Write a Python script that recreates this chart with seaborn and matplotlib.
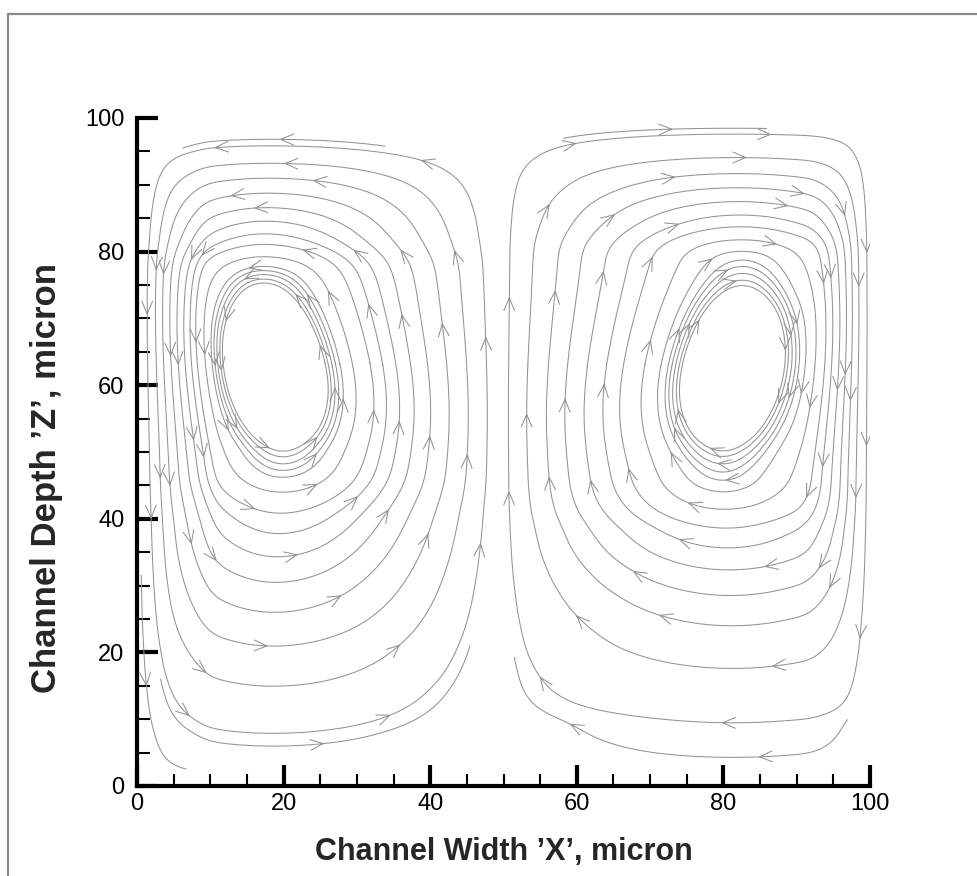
import numpy as np
import matplotlib
matplotlib.use("Agg")
import matplotlib.pyplot as plt
from matplotlib.ticker import MultipleLocator
from matplotlib.lines import Line2D
from matplotlib.patches import FancyArrowPatch
import seaborn as sns

# ---- channel cross-section (micron) ----
CHANNEL_W = 100.0
CHANNEL_D = 100.0
MID_X = 50.0

# Secondary-flow cells. Each loop k crosses the horizontal line through the
# core at *_WEST[k] / *_EAST[k] and the vertical line through the core at
# *_SOUTH[k] / *_NORTH[k] (innermost loop first).
LEFT_CORE = (18.5, 62.5)
LEFT_WEST = [11.8, 11.4, 11.0, 10.5, 10.0, 9.3, 8.4, 7.5, 6.6, 5.6, 4.6, 3.6, 2.7, 1.8]
LEFT_EAST = [25.8, 26.2, 26.7, 27.2, 27.8, 29.5, 31.9, 33.6, 35.4, 37.4, 39.7, 42.3, 45.0, 47.7]
LEFT_SOUTH = [50.3, 49.2, 48.2, 47.2, 46.0, 44.0, 41.0, 37.8, 34.3, 30.5, 26.0, 21.0, 15.0, 8.0]
LEFT_NORTH = [75.4, 76.0, 76.6, 77.3, 78.0, 79.3, 80.9, 82.6, 84.6, 86.6, 88.8, 91.0, 93.2, 95.5]

RIGHT_CORE = (81.3, 62.5)
RIGHT_WEST = [74.3, 73.9, 73.4, 72.9, 72.4, 71.4, 69.2, 66.3, 64.0, 61.4, 58.7, 56.1, 53.3, 50.7]
RIGHT_EAST = [88.3, 88.7, 89.2, 89.8, 90.4, 91.4, 92.6, 93.8, 94.8, 95.8, 96.7, 97.5, 98.3, 99.0]
RIGHT_SOUTH = [50.3, 49.3, 48.3, 47.1, 45.5, 43.9, 41.3, 38.8, 35.6, 32.4, 28.6, 24.1, 17.7, 10.1]
RIGHT_NORTH = [74.8, 75.8, 76.7, 77.7, 79.0, 80.4, 81.8, 83.6, 85.5, 87.5, 89.5, 91.7, 93.9, 97.1]

# short open traces close to the walls: seed x, seed z, trace length (axes units)
OPEN_X = [25.0, 1.2, 20.0, 72.0, 72.0]
OPEN_Z = [6.3, 16.0, 96.8, 98.3, 4.8]
OPEN_LEN = [0.55, 0.32, 0.28, 0.28, 0.55]

CORE_TILT = 0.17       # upper part of each core leans towards its side wall

X_TICKS = [0, 20, 40, 60, 80, 100]
Z_TICKS = [0, 20, 40, 60, 80, 100]
X_LABEL = "Channel Width \u2019X\u2019, micron"
Z_LABEL = "Channel Depth \u2019Z\u2019, micron"

LINE_COLOR = "#939393"
LINE_W = 0.75
ARROW_STYLE = "->,head_length=0.7,head_width=0.3"

sns.set_theme(style="white")
plt.rcParams["font.family"] = ["Liberation Sans", "DejaVu Sans"]


# ---- stream function built from the loop crossings ----
def level_coord(lo, lo_knots, center, hi_knots, hi, levels, wall, n=801, sigma=1.0):
    """Signed loop-level coordinate along one line through a core."""
    lo_knots = np.asarray(lo_knots)
    hi_knots = np.asarray(hi_knots)
    pos = np.concatenate([[lo], lo_knots[::-1], [center], hi_knots, [hi]])
    val = np.concatenate([[-wall], -levels[::-1], [0.0], levels, [wall]])
    grid = np.linspace(lo, hi, n)
    u = np.interp(grid, pos, val)
    step = grid[1] - grid[0]
    half_w = int(4 * sigma / step)
    ker = np.exp(-0.5 * (np.arange(-half_w, half_w + 1) * step / sigma) ** 2)
    ker /= ker.sum()
    up = np.pad(u, half_w, mode="reflect", reflect_type="odd")
    return grid, np.convolve(up, ker, mode="valid")


def profile(grid, u, wall, values):
    return np.cos(0.5 * np.pi * np.interp(values, grid, u) / wall)


x = np.linspace(0.0, CHANNEL_W, 401)
z = np.linspace(0.0, CHANNEL_D, 401)
X, Z = np.meshgrid(x, z)

# lean of the cores, confined to the core depth band
dz = Z - LEFT_CORE[1]
X_eff = X + CORE_TILT * dz * np.exp(-(dz / 20.0) ** 2) * np.sin(np.pi * X / MID_X)

# loop levels: distance of each loop from its core towards the mid-plane
lev_L = np.array(LEFT_EAST) - LEFT_CORE[0]
wall_L = MID_X - LEFT_CORE[0]
lev_R = RIGHT_CORE[0] - np.array(RIGHT_WEST)
wall_R = RIGHT_CORE[0] - MID_X

gxL, uxL = level_coord(0.0, LEFT_WEST, LEFT_CORE[0], LEFT_EAST, MID_X, lev_L, wall_L)
gzL, uzL = level_coord(0.0, LEFT_SOUTH, LEFT_CORE[1], LEFT_NORTH, CHANNEL_D, lev_L, wall_L)
gxR, uxR = level_coord(MID_X, RIGHT_WEST, RIGHT_CORE[0], RIGHT_EAST, CHANNEL_W, lev_R, wall_R)
gzR, uzR = level_coord(0.0, RIGHT_SOUTH, RIGHT_CORE[1], RIGHT_NORTH, CHANNEL_D, lev_R, wall_R)

psi_left = profile(gxL, uxL, wall_L, np.clip(X_eff, 0, MID_X)) * profile(gzL, uzL, wall_L, Z)
psi_right = -profile(gxR, uxR, wall_R, np.clip(X_eff, MID_X, CHANNEL_W)) * profile(gzR, uzR, wall_R, Z)
psi = np.where(X_eff <= MID_X, psi_left, psi_right)

dpsi_dz, dpsi_dx = np.gradient(psi, z, x)
U = dpsi_dz
W = -dpsi_dx

# ---- figure ----
fig = plt.figure(figsize=(9.77, 8.76), dpi=100)
ax = fig.add_axes([137 / 977, 90 / 876, 733 / 977, 668 / 876])
ax.set_xlim(0, CHANNEL_W)
ax.set_ylim(0, CHANNEL_D)


def traced_points(segs):
    """Ordered vertices of one traced streamline from a LineCollection."""
    segs = [np.asarray(s) for s in segs if len(s)]
    if not segs:
        return None
    if len(segs) > 1 and all(len(s) == 2 for s in segs):
        return np.vstack([segs[0][:1]] + [s[1:2] for s in segs])
    return np.vstack(segs)


def draw_trace(x0, z0, closed=True, maxlength=10.0, spacing=200.0, phase=0.0,
               min_arrows=3):
    """Trace one streamline through (x0, z0) and put arrows along it."""
    n_before = len(ax.patches)
    sp = ax.streamplot(
        x, z, U, W,
        start_points=[[x0, z0]],
        density=6,
        color=LINE_COLOR,
        linewidth=LINE_W,
        arrowsize=1.2,
        arrowstyle=ARROW_STYLE,
        integration_direction="both",
        broken_streamlines=True,
        maxlength=maxlength,
        zorder=2,
    )
    for p in list(ax.patches[n_before:]):
        p.remove()
    pts = traced_points(sp.lines.get_segments())
    sp.lines.remove()
    if pts is None or len(pts) < 3:
        return
    if closed:
        pts = np.vstack([pts, pts[:1]])
    ax.plot(pts[:, 0], pts[:, 1], color=LINE_COLOR, lw=LINE_W, zorder=2)
    disp = ax.transData.transform(pts)
    ds = np.hypot(np.diff(disp[:, 0]), np.diff(disp[:, 1]))
    s = np.concatenate([[0.0], np.cumsum(ds)])
    n_arrows = max(min_arrows, int(round(s[-1] / spacing)))
    for k in range(n_arrows):
        target = s[-1] * ((k + 0.5 + phase) % n_arrows) / n_arrows
        i = int(np.clip(np.searchsorted(s, target), 0, len(pts) - 3))
        ax.add_patch(FancyArrowPatch(pts[i], pts[i + 1], arrowstyle=ARROW_STYLE,
                                     mutation_scale=13, color=LINE_COLOR, lw=LINE_W,
                                     shrinkA=0, shrinkB=0, zorder=2))


for i, sx in enumerate(LEFT_EAST):
    draw_trace(sx, LEFT_CORE[1], phase=(0.37 * i) % 0.8 - 0.4)
for i, sx in enumerate(RIGHT_WEST):
    draw_trace(sx, RIGHT_CORE[1], phase=(0.37 * i + 0.2) % 0.8 - 0.4)
for ox, oz, ol in zip(OPEN_X, OPEN_Z, OPEN_LEN):
    draw_trace(ox, oz, closed=False, maxlength=ol, spacing=260.0, min_arrows=1)

ax.set_xticks(X_TICKS)
ax.set_yticks(Z_TICKS)
ax.set_xticklabels([str(v) for v in X_TICKS])
ax.set_yticklabels([str(v) for v in Z_TICKS])
ax.xaxis.set_minor_locator(MultipleLocator(5))
ax.yaxis.set_minor_locator(MultipleLocator(5))

for side in ("top", "right"):
    ax.spines[side].set_visible(False)
for side in ("left", "bottom"):
    ax.spines[side].set_linewidth(3.0)
    ax.spines[side].set_color("black")
    ax.spines[side].set_capstyle("projecting")

ax.tick_params(which="both", bottom=True, left=True, top=False, right=False)
ax.tick_params(which="major", direction="in", length=15, width=3, color="black",
               labelsize=17, labelcolor="black", pad=5)
ax.tick_params(which="minor", direction="in", length=9, width=1.5, color="black")
ax.tick_params(axis="y", which="major", pad=9)

ax.set_xlabel(X_LABEL, fontsize=22, fontweight="bold", va="center")
ax.set_ylabel(Z_LABEL, fontsize=25, fontweight="bold", va="center")
ax.xaxis.set_label_coords(0.5, (786 - 852) / 668)
ax.yaxis.set_label_coords((47 - 137) / 733, (786 - 478) / 668)

# page frame
fx = 7.5 / 977
fy = 1 - 14 / 876
fig.add_artist(Line2D([fx, fx], [0, fy], transform=fig.transFigure, color="#8a8a8a", lw=1.6))
fig.add_artist(Line2D([fx, 1.0], [fy, fy], transform=fig.transFigure, color="#8a8a8a", lw=1.6))

fig.savefig("out.png", dpi=100, facecolor="white")
